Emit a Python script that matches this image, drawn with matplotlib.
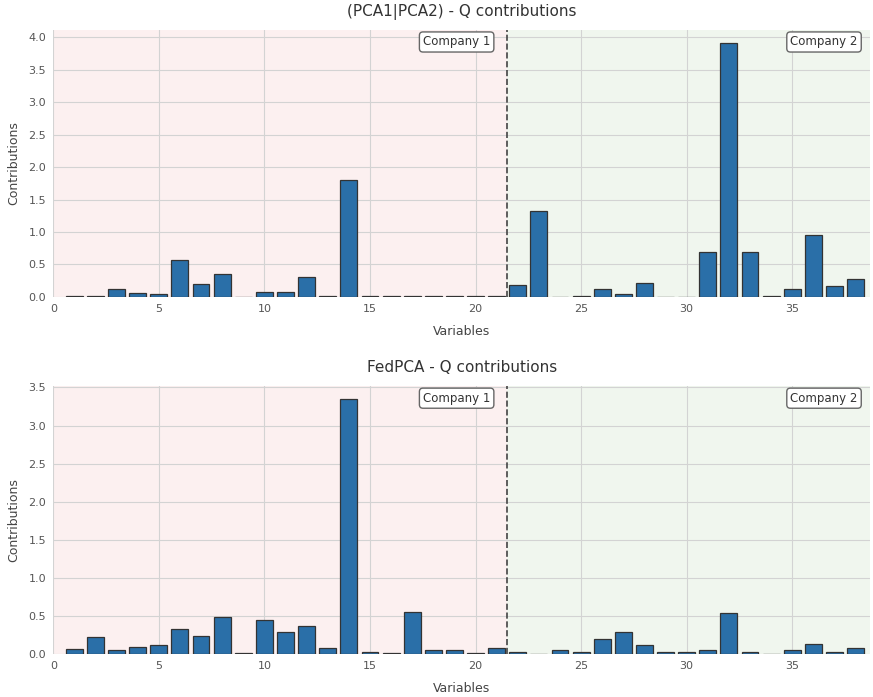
import numpy as np
import matplotlib
matplotlib.use("Agg")
import matplotlib.pyplot as plt

# Variables 1..38
variables = np.arange(1, 39)

# Q contributions, (PCA1|PCA2)
q_pca = [0.01, 0.02, 0.12, 0.06, 0.04, 0.57, 0.20, 0.36, 0.005, 0.08,
         0.07, 0.31, 0.01, 1.80, 0.02, 0.01, 0.02, 0.01, 0.01, 0.01,
         0.01, 0.18, 1.32, 0.0, 0.02, 0.12, 0.05, 0.22, 0.0, 0.0,
         0.69, 3.92, 0.69, 0.01, 0.12, 0.95, 0.17, 0.28]

# Q contributions, FedPCA
q_fed = [0.06, 0.22, 0.05, 0.09, 0.11, 0.33, 0.23, 0.48, 0.005, 0.45,
         0.29, 0.36, 0.08, 3.35, 0.02, 0.01, 0.55, 0.05, 0.05, 0.01,
         0.07, 0.03, 0.0, 0.05, 0.03, 0.19, 0.28, 0.11, 0.03, 0.03,
         0.05, 0.54, 0.03, 0.0, 0.05, 0.13, 0.03, 0.08]

titles = ["(PCA1|PCA2) - Q contributions", "FedPCA - Q contributions"]
split = 21.5
x_max = 38.7

fig = plt.figure(figsize=(8.73, 6.97), dpi=100)
ax1 = fig.add_axes([0.061, 0.574, 0.936, 0.383])
ax2 = fig.add_axes([0.061, 0.062, 0.936, 0.384])

for ax, vals, title in zip([ax1, ax2], [q_pca, q_fed], titles):
    ax.set_facecolor("white")
    ax.axvspan(0, split, color="#f7d4d4", alpha=0.35, lw=0, zorder=0)
    ax.axvspan(split, x_max, color="#d5e8cf", alpha=0.35, lw=0, zorder=0)
    ax.grid(True, color="#d3d3d3", lw=0.8, zorder=1)
    ax.set_axisbelow(True)
    ax.bar(variables, vals, width=0.8, color="#2a6fa8", edgecolor="#333333",
           linewidth=0.9, zorder=3)
    ax.axvline(split, color="#444444", ls="--", lw=1.2, zorder=4)
    ax.set_xlim(0, x_max)
    ax.set_ylim(0, max(vals) * 1.05)
    ax.set_xticks([0, 5, 10, 15, 20, 25, 30, 35])
    ax.set_title(title, fontsize=11, color="#333333", pad=10)
    ax.set_xlabel("Variables", fontsize=9, color="#444444", labelpad=8)
    ax.set_ylabel("Contributions", fontsize=9, color="#444444", labelpad=6)
    ax.tick_params(labelsize=8, colors="#555555", length=0, pad=5)
    for s in ax.spines.values():
        s.set_visible(False)
    box = dict(boxstyle="round,pad=0.3", fc="white", ec="#666666", lw=1)
    ax.text(split - 0.8, 0.955, "Company 1", transform=ax.get_xaxis_transform(),
            ha="right", va="center", fontsize=8.5, color="#333333", bbox=box, zorder=5)
    ax.text(x_max - 0.6, 0.955, "Company 2", transform=ax.get_xaxis_transform(),
            ha="right", va="center", fontsize=8.5, color="#333333", bbox=box, zorder=5)

fig.savefig("out.png", dpi=100)
